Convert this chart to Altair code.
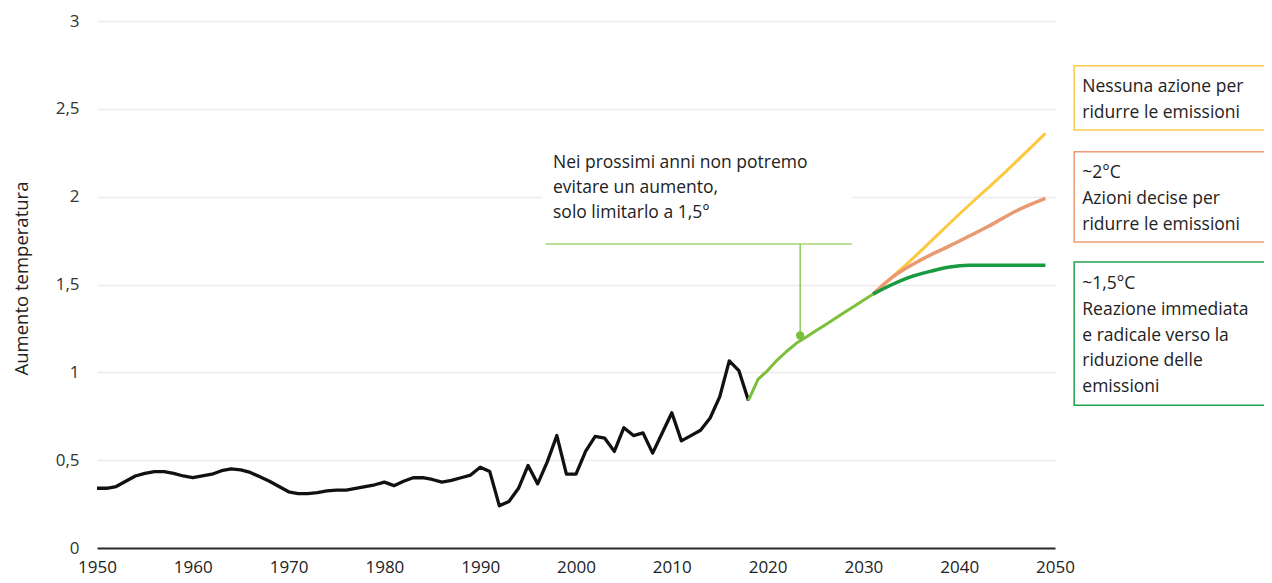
import altair as alt
import pandas as pd

FONT = "Open Sans"

# ---------------- data ----------------
hist_years = list(range(1950, 2019))
hist_values = [0.34, 0.34, 0.35, 0.38, 0.41, 0.425, 0.435, 0.435, 0.425, 0.41,
               0.40, 0.41, 0.42, 0.44, 0.45, 0.445, 0.43, 0.405, 0.38, 0.35,
               0.32, 0.31, 0.31, 0.315, 0.325, 0.33, 0.33, 0.34, 0.35, 0.36,
               0.375, 0.355, 0.38, 0.40, 0.40, 0.39, 0.375, 0.385, 0.40, 0.415,
               0.46, 0.435, 0.24, 0.265, 0.34, 0.47, 0.365, 0.49, 0.64, 0.42,
               0.42, 0.55, 0.635, 0.625, 0.55, 0.685, 0.64, 0.655, 0.54, 0.655,
               0.77, 0.61, 0.64, 0.67, 0.74, 0.86, 1.065, 1.01, 0.84]

proj_years = [2018, 2019, 2020, 2021, 2022, 2023, 2024, 2025, 2026, 2027, 2028, 2029, 2030, 2031]
proj_values = [0.84, 0.96, 1.01, 1.07, 1.12, 1.165, 1.20, 1.235, 1.27, 1.305, 1.34, 1.375, 1.41, 1.445]

none_years = [2031, 2035, 2040, 2045, 2049]
none_values = [1.445, 1.64, 1.90, 2.15, 2.36]

two_years = [2031, 2033, 2036, 2039, 2043, 2046, 2049]
two_values = [1.445, 1.54, 1.64, 1.72, 1.83, 1.92, 1.99]

onefive_years = [2031, 2033, 2035, 2037, 2039, 2041, 2045, 2049]
onefive_values = [1.445, 1.50, 1.545, 1.575, 1.60, 1.61, 1.61, 1.61]

x_ticks = [1950, 1960, 1970, 1980, 1990, 2000, 2010, 2020, 2030, 2040, 2050]
y_ticks = [0, 0.5, 1, 1.5, 2, 2.5, 3]

# annotation (callout)
callout_text = ["Nei prossimi anni non potremo", "evitare un aumento,", "solo limitarlo a 1,5°"]
callout_pos = {"x": 1997.6, "y": 2.245}
callout_bg = {"x": 1996.5, "x2": 2028.8, "y": 1.76, "y2": 2.32}
callout_rule = {"x": 1996.8, "x2": 2028.8, "y": 1.73}
callout_point = {"x": 2023.4, "y": 1.21}

# scenario boxes
box_labels = [
    ["Nessuna azione per", "ridurre le emissioni"],
    ["~2°C", "Azioni decise per", "ridurre le emissioni"],
    ["~1,5°C", "Reazione immediata", "e radicale verso la", "riduzione delle", "emissioni"],
]
box_colors = ["#f9cb48", "#ee9c73", "#22a24a"]
box_top = [2.745, 2.255, 1.628]
box_bottom = [2.379, 1.742, 0.812]
box_text_top = [2.675, 2.185, 1.553]

# ---------------- chart ----------------
X = lambda: alt.X("year:Q", scale=alt.Scale(domain=[1950, 2050], nice=False, zero=False),
                  axis=alt.Axis(values=x_ticks, format="d", title=None, ticks=False, grid=False,
                                domain=True, domainColor="#2b2b2b", domainWidth=2,
                                labelFont=FONT, labelFontSize=17, labelColor="#222222",
                                labelPadding=11, labelFlush=False))
Y = lambda: alt.Y("value:Q", scale=alt.Scale(domain=[0, 3], nice=False),
                  axis=alt.Axis(values=y_ticks, title="Aumento temperatura", ticks=False, domain=False,
                                grid=True, gridColor="#ececec", gridWidth=1.5,
                                labelExpr="replace(format(datum.value, '~g'), '.', ',')",
                                labelFont=FONT, labelFontSize=17, labelColor="#333333",
                                labelPadding=18, titleFont=FONT, titleFontSize=18.5,
                                titleFontWeight="normal", titleColor="#222222",
                                titleX=-66, titleY=257, titleAngle=-90))

def line_df(years, values):
    return pd.DataFrame({"year": years, "value": values})

hist = alt.Chart(line_df(hist_years, hist_values)).mark_line(
    color="#111111", strokeWidth=3.3, strokeJoin="round").encode(x=X(), y=Y())

proj = alt.Chart(line_df(proj_years, proj_values)).mark_line(
    color="#7cbf3a", strokeWidth=3, strokeJoin="round").encode(x="year:Q", y="value:Q")

none_l = alt.Chart(line_df(none_years, none_values)).mark_line(
    color="#fbc83f", strokeWidth=3, interpolate="monotone").encode(x="year:Q", y="value:Q")

two_l = alt.Chart(line_df(two_years, two_values)).mark_line(
    color="#e99a70", strokeWidth=3.5, interpolate="monotone").encode(x="year:Q", y="value:Q")

onefive_l = alt.Chart(line_df(onefive_years, onefive_values)).mark_line(
    color="#179b3e", strokeWidth=3.5, interpolate="monotone").encode(x="year:Q", y="value:Q")

bg = alt.Chart(pd.DataFrame([callout_bg])).mark_rect(color="white").encode(
    x="x:Q", x2="x2:Q", y="y:Q", y2="y2:Q")

rule_h = alt.Chart(pd.DataFrame([callout_rule])).mark_rule(
    color="#a5d476", strokeWidth=1.5).encode(x="x:Q", x2="x2:Q", y="y:Q")

rule_v = alt.Chart(pd.DataFrame([{"x": callout_point["x"], "y": callout_rule["y"],
                                  "y2": callout_point["y"]}])).mark_rule(
    color="#8fca55", strokeWidth=1.5).encode(x="x:Q", y="y:Q", y2="y2:Q")

dot = alt.Chart(pd.DataFrame([callout_point])).mark_circle(
    color="#7cbf3a", size=70, opacity=1).encode(x="x:Q", y="y:Q")

callout = alt.Chart(pd.DataFrame([{"x": callout_pos["x"], "y": callout_pos["y"],
                                   "t": callout_text}])).mark_text(
    align="left", baseline="top", font=FONT, fontSize=17.5, lineHeight=25,
    color="#222222").encode(x="x:Q", y="y:Q", text="t")

boxes_df = pd.DataFrame({"x": [2052.0] * 3, "x2": [2075.0] * 3,
                         "top": box_top, "bottom": box_bottom,
                         "ttop": box_text_top, "tx": [2052.85] * 3,
                         "label": box_labels, "c": box_colors})

boxes = alt.Chart(boxes_df).mark_rect(fill="white", strokeWidth=1.5).encode(
    x="x:Q", x2="x2:Q", y="top:Q", y2="bottom:Q",
    stroke=alt.Stroke("c:N", scale=None))

box_text = alt.Chart(boxes_df).mark_text(
    align="left", baseline="top", font=FONT, fontSize=17.5, lineHeight=25.7,
    color="#222222").encode(x="tx:Q", y="ttop:Q", text="label")

chart = alt.layer(
    bg, hist, proj, none_l, two_l, onefive_l, rule_h, rule_v, dot, callout, boxes, box_text
).properties(
    width=958, height=527,
    autosize=alt.AutoSizeParams(type="none"),
    padding={"left": 89, "top": 13, "right": 209, "bottom": 35},
).configure(background="white", view=alt.ViewConfig(stroke=None))

chart.save("out.html", embed_options={"renderer": "svg", "actions": False})
